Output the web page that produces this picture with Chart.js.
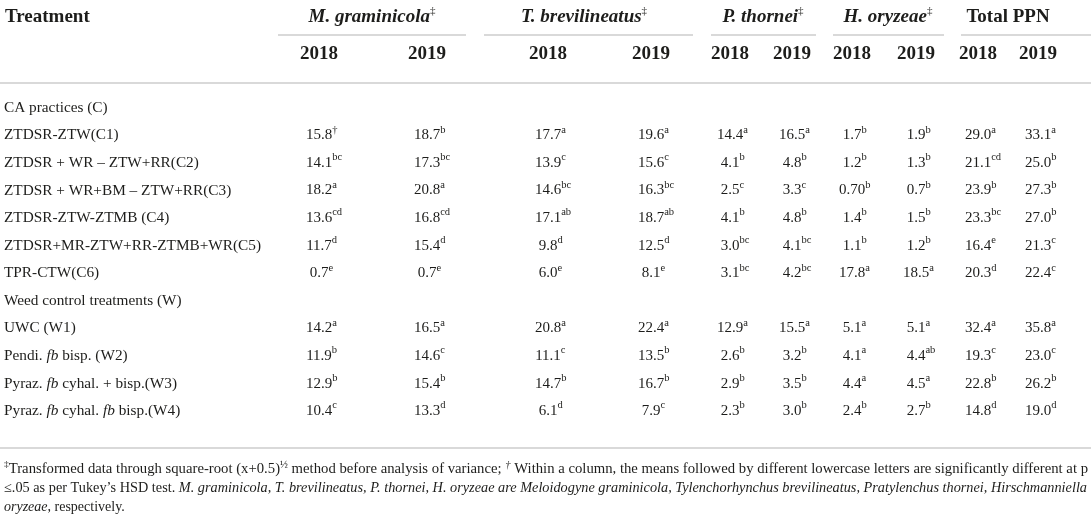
<!DOCTYPE html>
<html>
<head>
<meta charset="utf-8">
<script src="https://cdn.jsdelivr.net/npm/chart.js@4.4.1/dist/chart.umd.min.js"></script>
<style>
  html, body { margin: 0; padding: 0; background: #fff; }
  canvas { display: block; }
</style>
</head>
<body>
<canvas id="tableChart" width="1091" height="522"></canvas>
<script>
// row labels (_x_ = italic)
var sections = ['CA practices (C)', 'Weed control treatments (W)'];
var caRows = [
  'ZTDSR-ZTW(C1)',
  'ZTDSR + WR \u2013 ZTW+RR(C2)',
  'ZTDSR + WR+BM \u2013 ZTW+RR(C3)',
  'ZTDSR-ZTW-ZTMB (C4)',
  'ZTDSR+MR-ZTW+RR-ZTMB+WR(C5)',
  'TPR-CTW(C6)'
];
var weedRows = [
  'UWC (W1)',
  'Pendi. _fb_ bisp. (W2)',
  'Pyraz. _fb_ cyhal. + bisp.(W3)',
  'Pyraz. _fb_ cyhal. _fb_ bisp.(W4)'
];

var groupNames = ['M. graminicola', 'T. brevilineatus', 'P. thornei', 'H. oryzeae', 'Total PPN'];
var years = ['2018', '2019'];

// means and Tukey letters, rows C1..C6 then W1..W4
var mg2018 = ['15.8', '14.1', '18.2', '13.6', '11.7', '0.7', '14.2', '11.9', '12.9', '10.4'];
var mg2018Sig = ['\u2020', 'bc', 'a', 'cd', 'd', 'e', 'a', 'b', 'b', 'c'];
var mg2019 = ['18.7', '17.3', '20.8', '16.8', '15.4', '0.7', '16.5', '14.6', '15.4', '13.3'];
var mg2019Sig = ['b', 'bc', 'a', 'cd', 'd', 'e', 'a', 'c', 'b', 'd'];
var tb2018 = ['17.7', '13.9', '14.6', '17.1', '9.8', '6.0', '20.8', '11.1', '14.7', '6.1'];
var tb2018Sig = ['a', 'c', 'bc', 'ab', 'd', 'e', 'a', 'c', 'b', 'd'];
var tb2019 = ['19.6', '15.6', '16.3', '18.7', '12.5', '8.1', '22.4', '13.5', '16.7', '7.9'];
var tb2019Sig = ['a', 'c', 'bc', 'ab', 'd', 'e', 'a', 'b', 'b', 'c'];
var pt2018 = ['14.4', '4.1', '2.5', '4.1', '3.0', '3.1', '12.9', '2.6', '2.9', '2.3'];
var pt2018Sig = ['a', 'b', 'c', 'b', 'bc', 'bc', 'a', 'b', 'b', 'b'];
var pt2019 = ['16.5', '4.8', '3.3', '4.8', '4.1', '4.2', '15.5', '3.2', '3.5', '3.0'];
var pt2019Sig = ['a', 'b', 'c', 'b', 'bc', 'bc', 'a', 'b', 'b', 'b'];
var ho2018 = ['1.7', '1.2', '0.70', '1.4', '1.1', '17.8', '5.1', '4.1', '4.4', '2.4'];
var ho2018Sig = ['b', 'b', 'b', 'b', 'b', 'a', 'a', 'a', 'a', 'b'];
var ho2019 = ['1.9', '1.3', '0.7', '1.5', '1.2', '18.5', '5.1', '4.4', '4.5', '2.7'];
var ho2019Sig = ['b', 'b', 'b', 'b', 'b', 'a', 'a', 'ab', 'a', 'b'];
var tot2018 = ['29.0', '21.1', '23.9', '23.3', '16.4', '20.3', '32.4', '19.3', '22.8', '14.8'];
var tot2018Sig = ['a', 'cd', 'b', 'bc', 'e', 'd', 'a', 'c', 'b', 'd'];
var tot2019 = ['33.1', '25.0', '27.3', '27.0', '21.3', '22.4', '35.8', '23.0', '26.2', '19.0'];
var tot2019Sig = ['a', 'b', 'b', 'b', 'c', 'c', 'a', 'c', 'b', 'd'];

var columns = [
  [mg2018, mg2018Sig], [mg2019, mg2019Sig],
  [tb2018, tb2018Sig], [tb2019, tb2019Sig],
  [pt2018, pt2018Sig], [pt2019, pt2019Sig],
  [ho2018, ho2018Sig], [ho2019, ho2019Sig],
  [tot2018, tot2018Sig], [tot2019, tot2019Sig]
];

// layout (x in scale units)
var colX = [319, 427, 548, 651, 730, 792, 852, 916, 978, 1038];
var groupLine = [[278, 466], [484, 693], [711, 816], [833, 944], [961, 1091]];
var groupCenter = [372, 584, 763, 888, 1008];

var treatments = caRows.concat(weedRows);
var rowLabels = [sections[0]].concat(caRows, [sections[1]], weedRows);

var FAM = '"Liberation Serif", "Times New Roman", serif';
var INK = '#1d1d1b';

var datasets = columns.map(function (col, j) {
  return {
    label: 'col' + j,
    data: treatments.map(function (t) { return { x: colX[j], y: t }; }),
    values: col[0],
    sig: col[1],
    pointRadius: 0,
    pointHoverRadius: 0
  };
});

function drawRuns(ctx, runs, x, y, align, fitWidth) {
  var widths = runs.map(function (r) { ctx.font = r.font; return ctx.measureText(r.text).width; });
  var total = widths.reduce(function (a, b) { return a + b; }, 0);
  var sx = fitWidth ? fitWidth / total : 1;
  var start = align === 'center' ? x - total * sx / 2 : x;
  ctx.save();
  ctx.translate(start, y);
  ctx.scale(sx, 1);
  ctx.textAlign = 'left';
  ctx.textBaseline = 'middle';
  var cx = 0;
  runs.forEach(function (r, i) {
    ctx.font = r.font;
    ctx.fillText(r.text, cx, r.dy || 0);
    cx += widths[i];
  });
  ctx.restore();
}

function labelRuns(s, size) {
  return s.split('_').map(function (part, i) {
    return { text: part, font: (i % 2 ? 'italic ' : '') + size + 'px ' + FAM };
  }).filter(function (r) { return r.text.length; });
}

function hline(ctx, x1, x2, y) {
  ctx.beginPath();
  ctx.moveTo(x1, y);
  ctx.lineTo(x2, y);
  ctx.stroke();
}

var tablePlugin = {
  id: 'tableText',
  afterDatasetsDraw: function (chart) {
    var ctx = chart.ctx, xs = chart.scales.x, ys = chart.scales.y;
    ctx.save();
    ctx.fillStyle = INK;
    ctx.strokeStyle = '#cccccc';
    ctx.lineWidth = 1.5;

    // header
    drawRuns(ctx, [{ text: 'Treatment', font: 'bold 19px ' + FAM }], 5, 17, 'left');
    groupNames.forEach(function (g, k) {
      var runs = [{ text: g, font: (k < 4 ? 'italic ' : '') + 'bold 19px ' + FAM }];
      if (k < 4) runs.push({ text: '\u2021', font: '11px ' + FAM, dy: -6 });
      drawRuns(ctx, runs, xs.getPixelForValue(groupCenter[k]), 17, 'center');
      hline(ctx, xs.getPixelForValue(groupLine[k][0]), xs.getPixelForValue(groupLine[k][1]), 35);
    });
    colX.forEach(function (cx, j) {
      drawRuns(ctx, [{ text: years[j % 2], font: 'bold 19px ' + FAM }], xs.getPixelForValue(cx), 54, 'center');
    });
    hline(ctx, 0, chart.width, 83);

    // row labels
    rowLabels.forEach(function (lab, i) {
      drawRuns(ctx, labelRuns(lab, 15.3), 4, ys.getPixelForValue(i), 'left');
    });

    // cells
    chart.data.datasets.forEach(function (ds, j) {
      chart.getDatasetMeta(j).data.forEach(function (pt, i) {
        ctx.font = '15px ' + FAM;
        var w = ctx.measureText(ds.values[i]).width;
        drawRuns(ctx, [
          { text: ds.values[i], font: '15px ' + FAM },
          { text: ds.sig[i], font: '10.5px ' + FAM, dy: -5.5 }
        ], pt.x - w / 2, pt.y, 'left');
      });
    });

    // footnote
    hline(ctx, 0, chart.width, 448);
    var fn = '14px ' + FAM, fi = 'italic 14px ' + FAM, fs = '9px ' + FAM;
    drawRuns(ctx, [
      { text: '\u2021', font: fs, dy: -4 },
      { text: 'Transformed data through square-root (x+0.5)', font: fn },
      { text: '\u00bd', font: '10px ' + FAM, dy: -4 },
      { text: ' method before analysis of variance; ', font: fn },
      { text: '\u2020', font: 'italic 10px ' + FAM, dy: -4 },
      { text: ' Within a column, the means followed by different lowercase letters are significantly different at p', font: fn }
    ], 4, 469, 'left', 1084);
    drawRuns(ctx, [
      { text: '\u2264.05 as per Tukey\u2019s HSD test. ', font: fn },
      { text: 'M. graminicola, T. brevilineatus, P. thornei, H. oryzeae are Meloidogyne graminicola, Tylenchorhynchus brevilineatus, Pratylenchus thornei, Hirschmanniella', font: fi }
    ], 4, 488, 'left', 1083);
    drawRuns(ctx, [
      { text: 'oryzeae', font: fi },
      { text: ', respectively.', font: fn }
    ], 4, 507, 'left');
    ctx.restore();
  }
};

new Chart(document.getElementById('tableChart'), {
  type: 'scatter',
  data: { datasets: datasets },
  options: {
    responsive: false,
    animation: false,
    events: [],
    layout: { padding: { top: 94, bottom: 97, left: 0, right: 0 } },
    plugins: { legend: { display: false }, tooltip: { enabled: false } },
    scales: {
      x: { type: 'linear', min: 0, max: 1091, display: false },
      y: { type: 'category', labels: rowLabels, offset: true, display: false }
    }
  },
  plugins: [tablePlugin]
});
</script>
</body>
</html>
